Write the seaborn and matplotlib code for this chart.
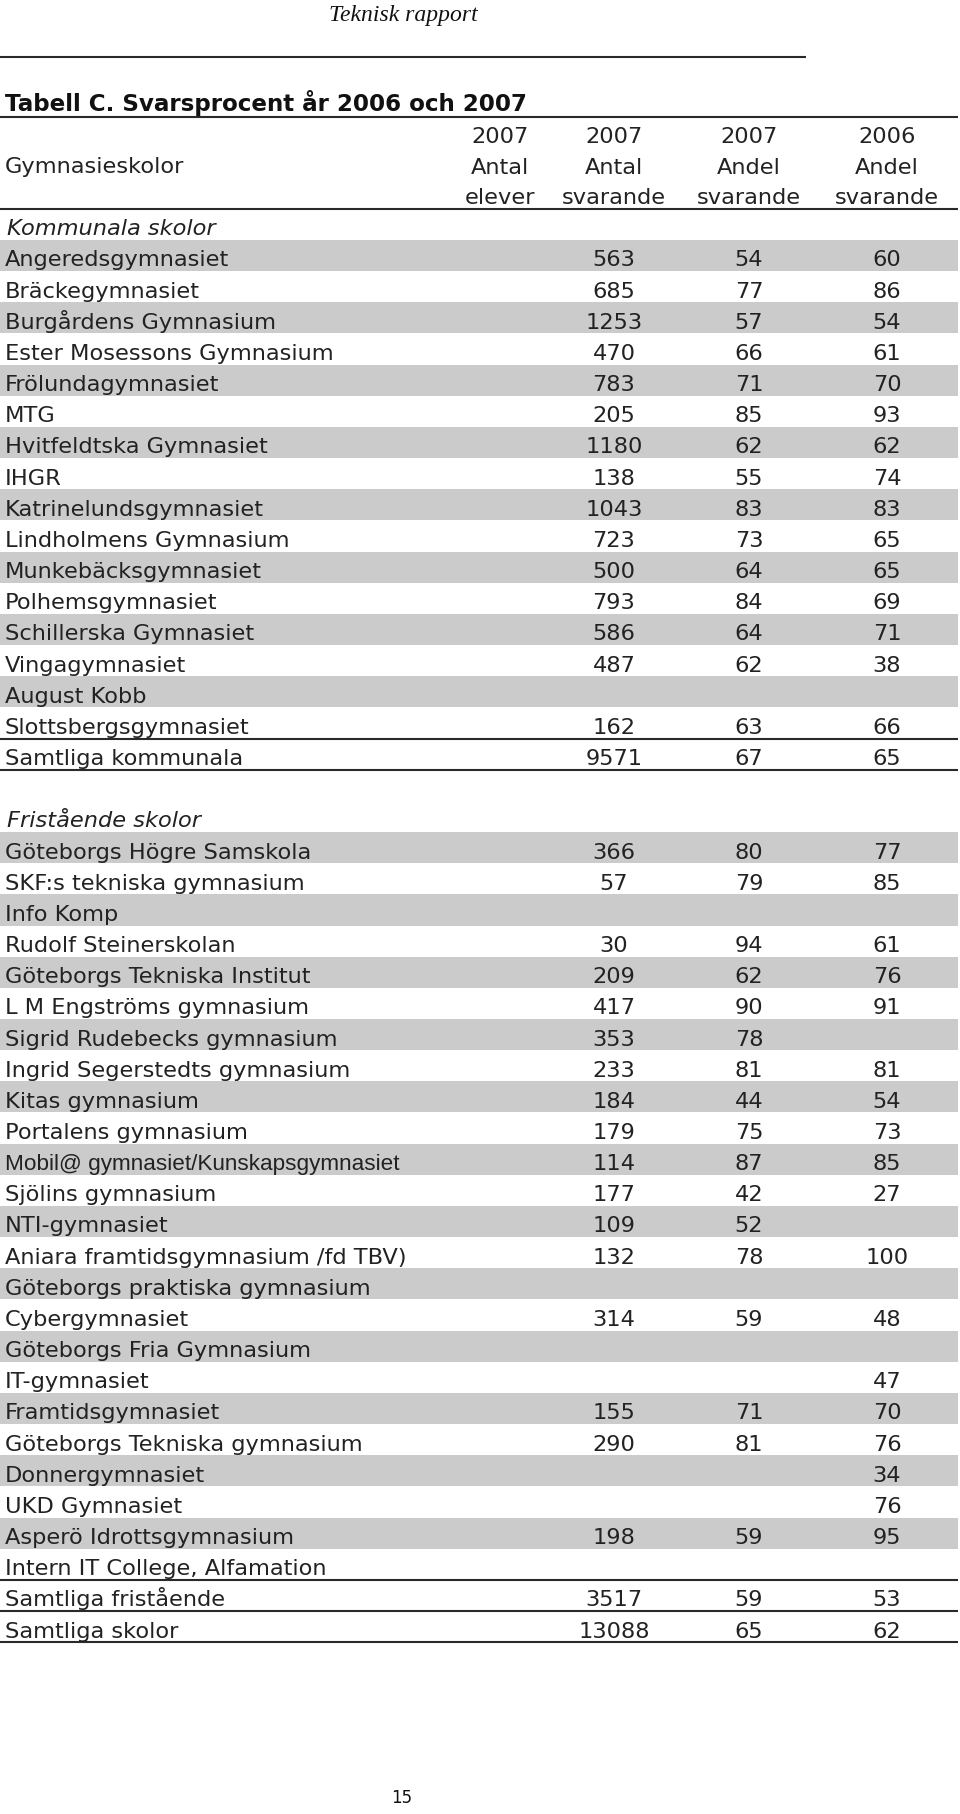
import matplotlib
matplotlib.use("Agg")
import matplotlib.pyplot as plt
import seaborn as sns
import pandas as pd

# ---------------- data ----------------
page_header = "Teknisk rapport"
table_title = "Tabell C. Svarsprocent år 2006 och 2007"
first_col_header = "Gymnasieskolor"
header_year = ["2007", "2007", "2007", "2006"]
header_kind = ["Antal", "Antal", "Andel", "Andel"]
header_unit = ["elever", "svarande", "svarande", "svarande"]

section_kommunala = "Kommunala skolor"
kommunala_skolor = [
    "Angeredsgymnasiet", "Bräckegymnasiet", "Burgårdens Gymnasium",
    "Ester Mosessons Gymnasium", "Frölundagymnasiet", "MTG",
    "Hvitfeldtska Gymnasiet", "IHGR", "Katrinelundsgymnasiet",
    "Lindholmens Gymnasium", "Munkebäcksgymnasiet", "Polhemsgymnasiet",
    "Schillerska Gymnasiet", "Vingagymnasiet", "August Kobb",
    "Slottsbergsgymnasiet", "Samtliga kommunala",
]
kommunala_antal = [563, 685, 1253, 470, 783, 205, 1180, 138, 1043, 723, 500,
                   793, 586, 487, None, 162, 9571]
kommunala_andel_2007 = [54, 77, 57, 66, 71, 85, 62, 55, 83, 73, 64, 84, 64, 62,
                        None, 63, 67]
kommunala_andel_2006 = [60, 86, 54, 61, 70, 93, 62, 74, 83, 65, 65, 69, 71, 38,
                        None, 66, 65]

section_fristaende = "Fristående skolor"
fristaende_skolor = [
    "Göteborgs Högre Samskola", "SKF:s tekniska gymnasium", "Info Komp",
    "Rudolf Steinerskolan", "Göteborgs Tekniska Institut",
    "L M Engströms gymnasium", "Sigrid Rudebecks gymnasium",
    "Ingrid Segerstedts gymnasium", "Kitas gymnasium", "Portalens gymnasium",
    "Mobil@ gymnasiet/Kunskapsgymnasiet", "Sjölins gymnasium", "NTI-gymnasiet",
    "Aniara framtidsgymnasium /fd TBV)", "Göteborgs praktiska gymnasium",
    "Cybergymnasiet", "Göteborgs Fria Gymnasium", "IT-gymnasiet",
    "Framtidsgymnasiet", "Göteborgs Tekniska gymnasium", "Donnergymnasiet",
    "UKD Gymnasiet", "Asperö Idrottsgymnasium",
    "Intern IT College, Alfamation", "Samtliga fristående", "Samtliga skolor",
]
fristaende_antal = [366, 57, None, 30, 209, 417, 353, 233, 184, 179, 114, 177,
                    109, 132, None, 314, None, None, 155, 290, None, None, 198,
                    None, 3517, 13088]
fristaende_andel_2007 = [80, 79, None, 94, 62, 90, 78, 81, 44, 75, 87, 42, 52,
                         78, None, 59, None, None, 71, 81, None, None, 59, None,
                         59, 65]
fristaende_andel_2006 = [77, 85, None, 61, 76, 91, None, 81, 54, 73, 85, 27,
                         None, 100, None, 48, None, 47, 70, 76, 34, 76, 95,
                         None, 53, 62]
page_number = "15"

# ---------------- layout ----------------
sns.set_theme(style="white")
plt.rcParams["font.family"] = ["DejaVu Sans"]

W, H = 960, 1814
fig = plt.figure(figsize=(W / 100, H / 100), dpi=100)
ax = fig.add_axes([0, 0, 1, 1])
ax.set_xlim(0, W)
ax.set_ylim(H, 0)
ax.axis("off")

FS = 16.2
LINE_C = "#2a2a2a"
BAND_C = "#cbcbcb"
X_RIGHT = 958
col_x = [500, 614, 749, 887]
value_cols = [1, 2, 3]
Y0 = 240.0
PITCH = 31.16


def slot_top(i):
    return Y0 + i * PITCH


def hline(y, x0=0, x1=X_RIGHT, lw=1.5):
    ax.plot([x0, x1], [y, y], color=LINE_C, lw=lw, solid_capstyle="butt")


# page header
ax.text(403, 21, page_header, ha="center", va="baseline",
        family=["Liberation Serif"], style="italic", fontsize=17.0,
        color="#111111")
hline(57, 0, 806, lw=1.5)

# title
ax.text(5, 111.5, table_title, ha="left", va="baseline", fontsize=16.6,
        fontweight="bold", color="#111111")
hline(117)

# column headers
ax.text(5, 173, first_col_header, ha="left", va="baseline", fontsize=FS,
        color="#222222")
for cx, yr, kd, un in zip(col_x, header_year, header_kind, header_unit):
    ax.text(cx, 143, yr, ha="center", va="baseline", fontsize=FS, color="#222222")
    ax.text(cx, 173.5, kd, ha="center", va="baseline", fontsize=FS, color="#222222")
    ax.text(cx, 204.5, un, ha="center", va="baseline", fontsize=FS, color="#222222")
hline(209)

# build rows table
rows = []
rows.append(dict(slot=-1, name=section_kommunala, kind="section"))
for i, (n, a, b, c) in enumerate(zip(kommunala_skolor, kommunala_antal,
                                     kommunala_andel_2007, kommunala_andel_2006)):
    kind = "total" if n.startswith("Samtliga") else "row"
    rows.append(dict(slot=i, name=n, v1=a, v2=b, v3=c, kind=kind,
                     band=(kind == "row" and i % 2 == 0)))
start_f = len(kommunala_skolor) + 2
rows.append(dict(slot=start_f - 1, name=section_fristaende, kind="section"))
for i, (n, a, b, c) in enumerate(zip(fristaende_skolor, fristaende_antal,
                                     fristaende_andel_2007, fristaende_andel_2006)):
    kind = "total" if n.startswith("Samtliga") else "row"
    rows.append(dict(slot=start_f + i, name=n, v1=a, v2=b, v3=c, kind=kind,
                     band=(kind == "row" and i % 2 == 0)))
df = pd.DataFrame(rows)

# gray bands
bands = df[df["band"] == True]
ax.barh([slot_top(s) + PITCH / 2 for s in bands["slot"]],
        [X_RIGHT] * len(bands), height=PITCH, left=0, color=BAND_C,
        edgecolor="none", zorder=0)

# texts
for _, r in df.iterrows():
    yb = slot_top(r["slot"]) + 26.5
    if r["kind"] == "section":
        ax.text(7, yb, r["name"], ha="left", va="baseline", fontsize=FS,
                style="italic", color="#222222")
        continue
    fam = ["Liberation Sans"] if "Mobil@" in r["name"] else ["DejaVu Sans"]
    ax.text(5, yb, r["name"], ha="left", va="baseline", fontsize=FS,
            family=fam, color="#222222")
    for ci, key in zip(value_cols, ["v1", "v2", "v3"]):
        v = r[key]
        if v is not None and not pd.isna(v):
            ax.text(col_x[ci], yb, f"{int(v)}", ha="center", va="baseline",
                    fontsize=FS, color="#222222")

# rules around totals
k_tot = len(kommunala_skolor) - 1
hline(slot_top(k_tot))
hline(slot_top(k_tot + 1))
f_tot = start_f + len(fristaende_skolor) - 2
hline(slot_top(f_tot))
hline(slot_top(f_tot + 1))
hline(slot_top(f_tot + 2))

# page number
ax.text(402, 1803, page_number, ha="center", va="baseline", fontsize=12,
        color="#111111")

fig.savefig("out.png", dpi=100)
